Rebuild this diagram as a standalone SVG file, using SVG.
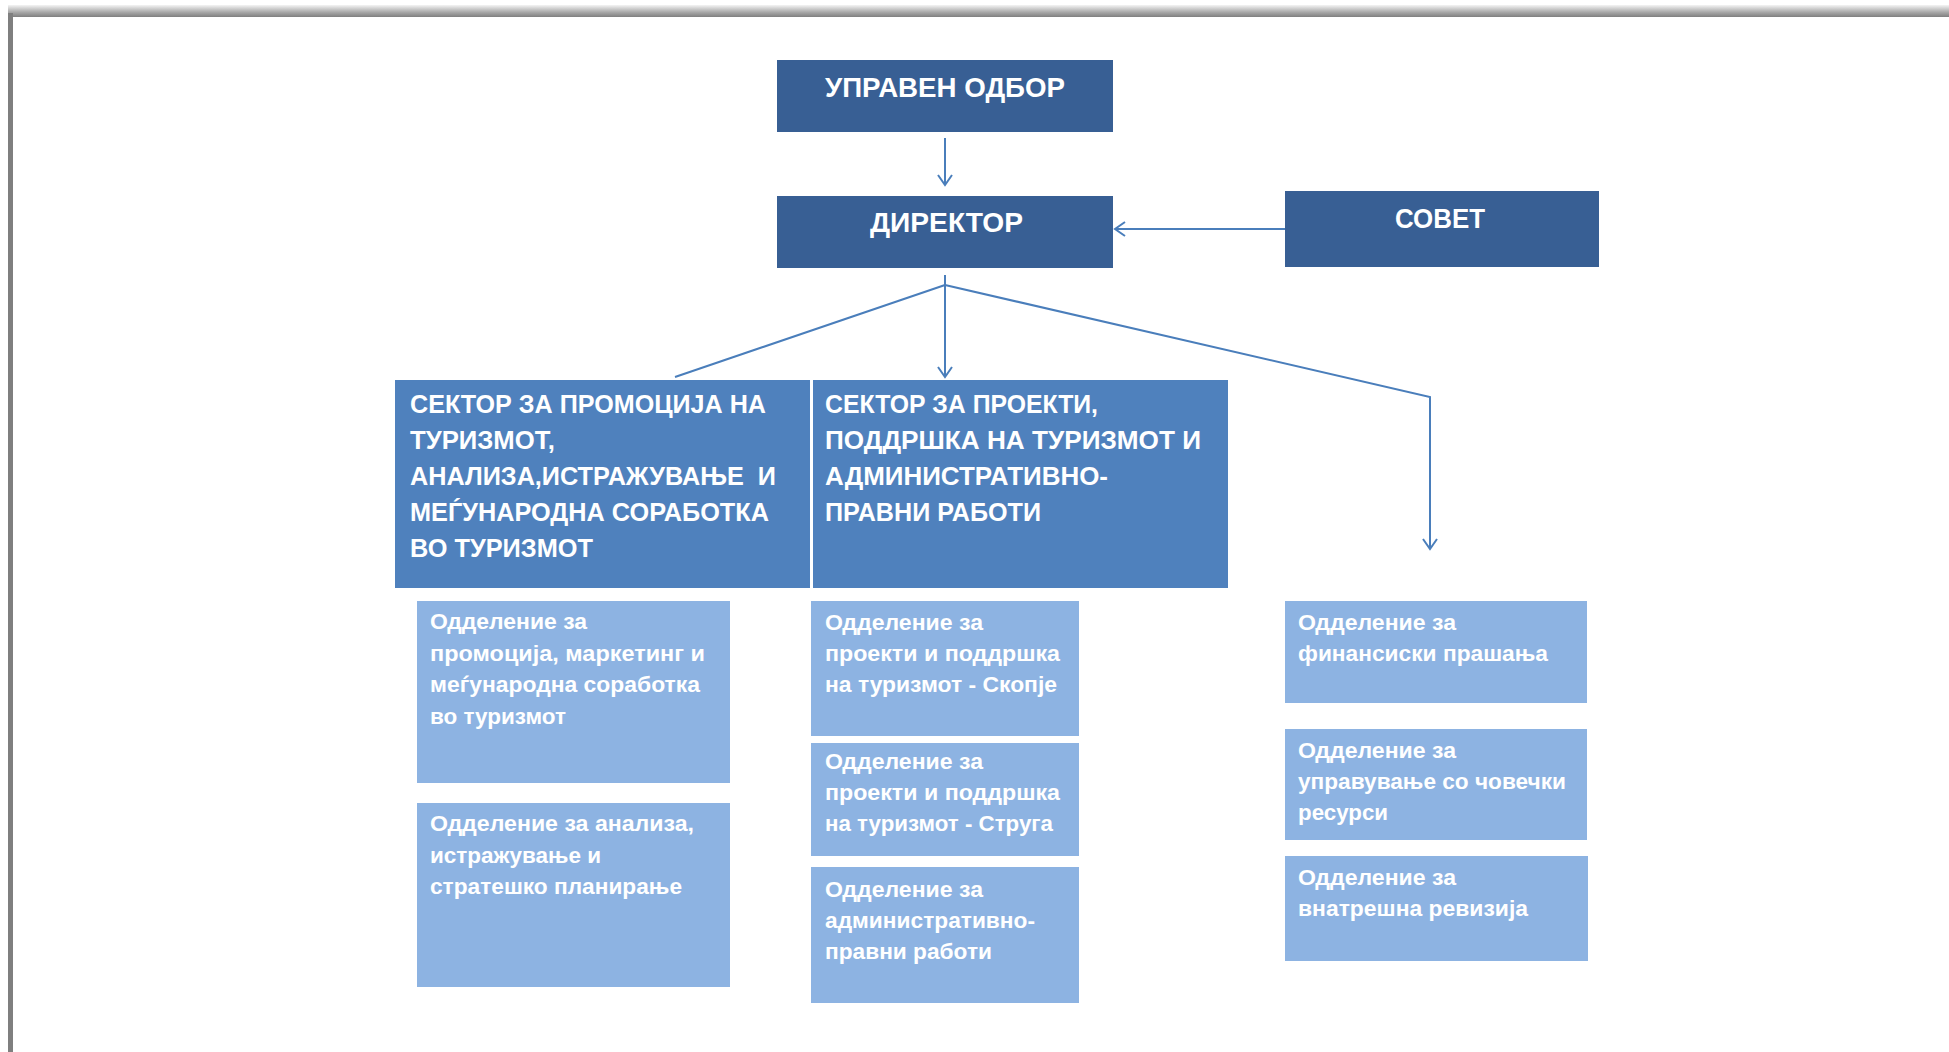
<svg xmlns="http://www.w3.org/2000/svg" width="1949" height="1052" viewBox="0 0 1949 1052">
<defs>
<linearGradient id="topband" x1="0" y1="0" x2="0" y2="1">
<stop offset="0" stop-color="#f4f4f4"/>
<stop offset="0.6" stop-color="#a8a8a8"/>
<stop offset="1" stop-color="#7f7f7f"/>
</linearGradient>
<marker id="arr" markerUnits="userSpaceOnUse" markerWidth="20" markerHeight="20" refX="11" refY="8" orient="auto">
<path d="M1,1 L11,8 L1,15" fill="none" stroke="#4a7ebb" stroke-width="2"/>
</marker>
<style>
.dark{fill:#385f94}
.sec{fill:#4f81bd}
.dep{fill:#8db3e2}
.t1{font-family:"Liberation Sans",Arial,sans-serif;font-weight:bold;font-size:28px;fill:#ffffff}
.t2{font-family:"Liberation Sans",Arial,sans-serif;font-weight:bold;font-size:25px;fill:#ffffff;white-space:pre}
.t3{font-family:"Liberation Sans",Arial,sans-serif;font-weight:bold;font-size:22px;fill:#ffffff}
.con{fill:none;stroke:#4a7ebb;stroke-width:2}
</style>
</defs>
<rect x="0" y="0" width="1949" height="1052" fill="#ffffff"/>
<rect x="8" y="5" width="1941" height="12" fill="url(#topband)"/>
<rect x="8" y="13" width="5" height="1039" fill="#7f7f7f"/>

<g id="upraven-odbor">
<rect class="dark" x="777" y="60" width="336" height="72"/>
<text class="t1" x="825" y="97" textLength="240" lengthAdjust="spacingAndGlyphs">УПРАВЕН ОДБОР</text>
</g>
<g id="direktor">
<rect class="dark" x="777" y="196" width="336" height="72"/>
<text class="t1" x="870" y="232" textLength="153" lengthAdjust="spacingAndGlyphs">ДИРЕКТОР</text>
</g>
<g id="sovet">
<rect class="dark" x="1285" y="191" width="314" height="76"/>
<text class="t1" x="1395" y="228" textLength="90" lengthAdjust="spacingAndGlyphs">СОВЕТ</text>
</g>

<g id="sektor-promocija">
<rect class="sec" x="395" y="380" width="415" height="208"/>
<text class="t2" x="410" y="413" textLength="356" lengthAdjust="spacingAndGlyphs">СЕКТОР ЗА ПРОМОЦИЈА НА</text>
<text class="t2" x="410" y="449" textLength="145" lengthAdjust="spacingAndGlyphs">ТУРИЗМОТ,</text>
<text class="t2" x="410" y="485" textLength="366" lengthAdjust="spacingAndGlyphs">АНАЛИЗА,ИСТРАЖУВАЊЕ  И</text>
<text class="t2" x="410" y="521" textLength="359" lengthAdjust="spacingAndGlyphs">МЕЃУНАРОДНА СОРАБОТКА</text>
<text class="t2" x="410" y="557" textLength="183" lengthAdjust="spacingAndGlyphs">ВО ТУРИЗМОТ</text>
</g>
<g id="sektor-proekti">
<rect class="sec" x="813" y="380" width="415" height="208"/>
<text class="t2" x="825" y="413" textLength="273" lengthAdjust="spacingAndGlyphs">СЕКТОР ЗА ПРОЕКТИ,</text>
<text class="t2" x="825" y="449" textLength="376" lengthAdjust="spacingAndGlyphs">ПОДДРШКА НА ТУРИЗМОТ И</text>
<text class="t2" x="825" y="485" textLength="283" lengthAdjust="spacingAndGlyphs">АДМИНИСТРАТИВНО-</text>
<text class="t2" x="825" y="521" textLength="216" lengthAdjust="spacingAndGlyphs">ПРАВНИ РАБОТИ</text>
</g>

<g id="odd-promocija">
<rect class="dep" x="417" y="601" width="313" height="182"/>
<text class="t3" x="430" y="629" textLength="157" lengthAdjust="spacingAndGlyphs">Одделение за</text>
<text class="t3" x="430" y="661" textLength="275" lengthAdjust="spacingAndGlyphs">промоција, маркетинг и</text>
<text class="t3" x="430" y="692" textLength="270" lengthAdjust="spacingAndGlyphs">меѓународна соработка</text>
<text class="t3" x="430" y="724" textLength="136" lengthAdjust="spacingAndGlyphs">во туризмот</text>
</g>
<g id="odd-analiza">
<rect class="dep" x="417" y="803" width="313" height="184"/>
<text class="t3" x="430" y="831" textLength="264" lengthAdjust="spacingAndGlyphs">Одделение за анализа,</text>
<text class="t3" x="430" y="863" textLength="171" lengthAdjust="spacingAndGlyphs">истражување и</text>
<text class="t3" x="430" y="894" textLength="252" lengthAdjust="spacingAndGlyphs">стратешко планирање</text>
</g>

<g id="odd-skopje">
<rect class="dep" x="811" y="601" width="268" height="135"/>
<text class="t3" x="825" y="630" textLength="158" lengthAdjust="spacingAndGlyphs">Одделение за</text>
<text class="t3" x="825" y="661" textLength="235" lengthAdjust="spacingAndGlyphs">проекти и поддршка</text>
<text class="t3" x="825" y="692" textLength="232" lengthAdjust="spacingAndGlyphs">на туризмот - Скопје</text>
</g>
<g id="odd-struga">
<rect class="dep" x="811" y="743" width="268" height="113"/>
<text class="t3" x="825" y="769" textLength="158" lengthAdjust="spacingAndGlyphs">Одделение за</text>
<text class="t3" x="825" y="800" textLength="235" lengthAdjust="spacingAndGlyphs">проекти и поддршка</text>
<text class="t3" x="825" y="831" textLength="228" lengthAdjust="spacingAndGlyphs">на туризмот - Струга</text>
</g>
<g id="odd-administrativno">
<rect class="dep" x="811" y="867" width="268" height="136"/>
<text class="t3" x="825" y="897" textLength="158" lengthAdjust="spacingAndGlyphs">Одделение за</text>
<text class="t3" x="825" y="928" textLength="210" lengthAdjust="spacingAndGlyphs">административно-</text>
<text class="t3" x="825" y="959" textLength="167" lengthAdjust="spacingAndGlyphs">правни работи</text>
</g>

<g id="odd-finansiski">
<rect class="dep" x="1285" y="601" width="302" height="102"/>
<text class="t3" x="1298" y="630" textLength="158" lengthAdjust="spacingAndGlyphs">Одделение за</text>
<text class="t3" x="1298" y="661" textLength="250" lengthAdjust="spacingAndGlyphs">финансиски прашања</text>
</g>
<g id="odd-resursi">
<rect class="dep" x="1285" y="729" width="302" height="111"/>
<text class="t3" x="1298" y="758" textLength="158" lengthAdjust="spacingAndGlyphs">Одделение за</text>
<text class="t3" x="1298" y="789" textLength="268" lengthAdjust="spacingAndGlyphs">управување со човечки</text>
<text class="t3" x="1298" y="820" textLength="90" lengthAdjust="spacingAndGlyphs">ресурси</text>
</g>
<g id="odd-revizija">
<rect class="dep" x="1285" y="856" width="303" height="105"/>
<text class="t3" x="1298" y="885" textLength="158" lengthAdjust="spacingAndGlyphs">Одделение за</text>
<text class="t3" x="1298" y="916" textLength="230" lengthAdjust="spacingAndGlyphs">внатрешна ревизија</text>
</g>

<g id="connectors">
<line class="con" x1="945" y1="138" x2="945" y2="185" marker-end="url(#arr)"/>
<line class="con" x1="1285" y1="229" x2="1115" y2="229" marker-end="url(#arr)"/>
<polyline class="con" points="945,275 945,285"/>
<polyline class="con" points="945,285 675,377"/>
<line class="con" x1="945" y1="285" x2="945" y2="377" marker-end="url(#arr)"/>
<polyline class="con" points="945,285 1430,397 1430,549" marker-end="url(#arr)"/>
</g>
</svg>
